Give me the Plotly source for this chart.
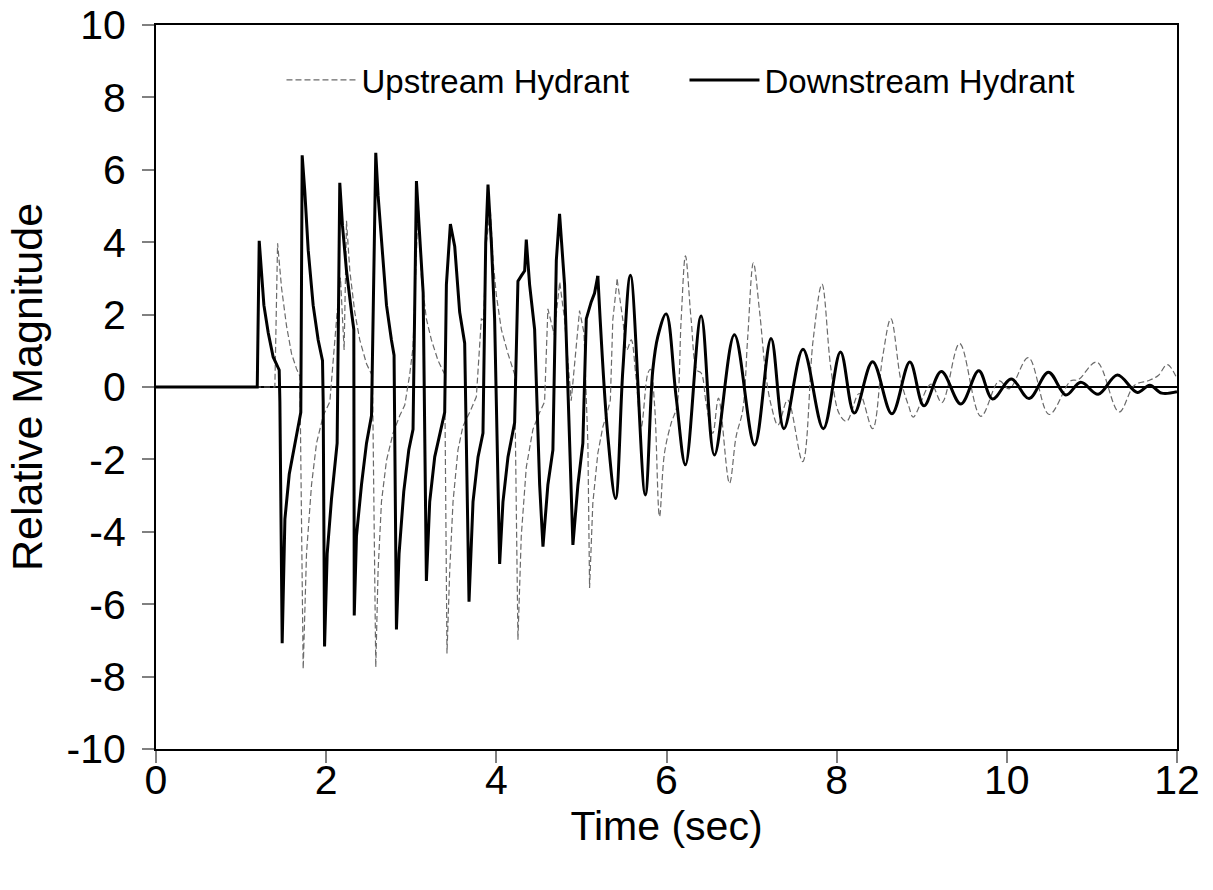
import plotly.graph_objects as go

# ---------------- data ----------------
# Downstream hydrant: sharp pulse section (linear segments)
down_t_a = [0.0, 1.19, 1.213, 1.241, 1.268, 1.319, 1.377, 1.448, 1.456, 1.483, 1.515, 1.566, 1.620,
            1.691, 1.702, 1.718, 1.749, 1.789, 1.847, 1.906, 1.957, 1.965, 1.981, 2.012, 2.063, 2.129,
            2.160, 2.192, 2.239, 2.298, 2.325, 2.330, 2.356, 2.415, 2.474, 2.533, 2.583, 2.610, 2.650,
            2.709, 2.767, 2.798, 2.826, 2.857, 2.912, 2.971, 3.021, 3.061, 3.092, 3.140, 3.178, 3.217,
            3.276, 3.334, 3.393, 3.413, 3.460, 3.511, 3.569, 3.628, 3.679, 3.726, 3.785, 3.843, 3.875,
            3.902, 3.942, 3.980, 4.039, 4.078, 4.137, 4.215, 4.254, 4.293, 4.333, 4.352, 4.391, 4.450,
            4.509, 4.548, 4.606, 4.665, 4.705, 4.743, 4.802, 4.900, 4.959, 5.017, 5.057, 5.115, 5.154,
            5.193]
down_v_a = [0.0, 0.0, 4.04, 3.11, 2.26, 1.50, 0.83, 0.47, -0.41, -7.08, -3.65, -2.41, -1.74,
            -0.93, -0.70, 6.40, 5.40, 3.78, 2.26, 1.30, 0.73, -0.41, -7.17, -4.60, -3.08, -1.55,
            5.64, 4.45, 3.21, 2.07, 1.59, -6.31, -4.12, -2.70, -1.55, -0.79, 6.47, 5.30, 3.97,
            2.26, 1.30, 0.88, -6.70, -4.60, -2.89, -1.74, -1.17, 5.69, 4.45, 2.60, -5.36, -3.17,
            -1.93, -1.36, -0.70, 2.83, 4.50, 3.88, 2.07, 1.21, -5.93, -3.17, -1.93, -1.27, 3.97,
            5.59, 3.97, 1.88, -4.89, -3.17, -1.93, -0.98, 2.92, 3.07, 3.21, 4.07, 2.83, 1.59,
            -2.70, -4.41, -2.70, -1.74, 3.50, 4.78, 2.83, -4.36, -2.70, -1.55, 1.88, 2.35, 2.59,
            3.07]
# Downstream hydrant: ringing section (smooth)
down_t_b = [5.193, 5.311, 5.401, 5.487, 5.577, 5.750, 5.839, 5.898, 5.996, 6.113, 6.223, 6.407,
            6.563, 6.798, 7.035, 7.229, 7.380, 7.604, 7.843, 8.045, 8.207, 8.422, 8.649, 8.860,
            9.025, 9.230, 9.460, 9.670, 9.832, 10.053, 10.262, 10.489, 10.693, 10.869, 11.074,
            11.299, 11.534, 11.680, 11.820, 12.0]
down_v_b = [3.07, -1.37, -3.08, 0.47, 3.09, -2.98, 0.47, 1.39, 2.02, -0.27, -2.15, 1.96,
            -1.88, 1.44, -1.60, 1.34, -1.15, 1.04, -1.15, 0.97, -0.72, 0.70, -0.74, 0.69,
            -0.52, 0.43, -0.47, 0.45, -0.33, 0.22, -0.32, 0.41, -0.22, 0.13, -0.20,
            0.33, -0.15, 0.05, -0.17, -0.13]

# Upstream hydrant: sharp pulse section
up_t_a = [0.0, 1.397, 1.429, 1.476, 1.534, 1.593, 1.652, 1.691, 1.730, 1.769, 1.828, 1.887, 1.965,
          2.043, 2.129, 2.168, 2.211, 2.239, 2.278, 2.336, 2.395, 2.474, 2.544, 2.583, 2.610, 2.650,
          2.709, 2.787, 2.865, 2.924, 2.982, 3.021, 3.082, 3.120, 3.178, 3.237, 3.315, 3.393, 3.420,
          3.452, 3.491, 3.549, 3.608, 3.687, 3.765, 3.804, 3.824, 3.850, 3.882, 3.929, 3.961, 4.000,
          4.059, 4.137, 4.215, 4.254, 4.293, 4.352, 4.430, 4.509, 4.567, 4.606, 4.680, 4.745, 4.800,
          4.880, 4.978, 5.030, 5.076, 5.096, 5.134, 5.193, 5.252, 5.311, 5.340, 5.369, 5.420]
up_v_a = [0.0, 0.0, 3.97, 2.73, 1.69, 0.92, 0.50, 0.30, -7.79, -4.60, -2.70, -1.55, -0.79,
          -0.41, 2.07, 3.02, 1.02, 4.59, 3.21, 2.07, 1.30, 0.64, 0.30, -7.74, -5.08, -3.17,
          -2.03, -1.27, -0.79, -0.50, 0.35, 1.11, 5.10, 3.02, 1.88, 1.30, 0.73, 0.35, -7.36,
          -5.08, -3.17, -1.74, -1.08, -0.70, -0.27, 1.11, 1.88, 1.85, 3.97, 4.92, 3.50, 2.54,
          1.59, 0.92, 0.35, -6.98, -4.12, -2.22, -1.17, -0.70, -0.41, 2.16, 1.45, 2.90, 1.90,
          -0.38, 2.11, 1.50, -1.55, -5.55, -3.21, -1.83, -1.10, -0.64, -0.36, 1.85, 2.97]
# Upstream hydrant: ringing section
up_t_b = [5.420, 5.487, 5.534, 5.585, 5.640, 5.703, 5.781, 5.812, 5.860, 5.918, 5.976, 6.055, 6.121,
          6.172, 6.223, 6.290, 6.357, 6.409, 6.466, 6.544, 6.611, 6.740, 6.818, 6.896, 6.955, 7.021,
          7.092, 7.170, 7.230, 7.310, 7.424, 7.600, 7.723, 7.827, 7.930, 8.030, 8.117, 8.266, 8.422,
          8.540, 8.637, 8.755, 8.850, 8.900, 9.108, 9.236, 9.445, 9.694, 9.910, 10.027, 10.253,
          10.497, 10.751, 10.840, 11.056, 11.319, 11.500, 11.671, 11.780, 11.886, 12.0]
up_v_b = [2.97, 1.85, 1.02, 1.30, 0.30, -1.10, 0.38, 0.49, -0.50, -3.58, -1.83, -1.00, -0.54,
          1.85, 3.62, 1.85, 0.47, 0.38, -0.45, -1.28, -0.31, -2.66, -1.37, -0.64, 1.39, 3.43,
          2.13, 0.29, -0.50, -1.05, -0.36, -2.06, 1.29, 2.84, 0.55, -0.74, -0.95, -0.18, -1.15,
          0.83, 1.89, 0.18, -0.55, -0.83, 0.08, -0.43, 1.20, -0.81, 0.17, -0.05, 0.81,
          -0.76, 0.17, 0.20, 0.69, -0.69, 0.05, 0.18, 0.32, 0.62, 0.23]

x_ticks = [0, 2, 4, 6, 8, 10, 12]
x_tick_labels = ["0", "2", "4", "6", "8", "10", "12"]
y_ticks = [-10, -8, -6, -4, -2, 0, 2, 4, 6, 8, 10]
y_tick_labels = ["-10", "-8", "-6", "-4", "-2", "0", "2", "4", "6", "8", "10"]

series_names = ["Upstream Hydrant", "Downstream Hydrant"]

# ---------------- figure ----------------
FONT = "Liberation Sans, Arial, sans-serif"
up_line = dict(color="#6a6a6a", width=1.2, dash="6px,3px")
down_line = dict(color="#000000", width=3)

fig = go.Figure()
fig.add_trace(go.Scatter(x=up_t_a, y=up_v_a, mode="lines", name=series_names[0],
                         legendgroup="up", line=dict(**up_line, shape="linear")))
fig.add_trace(go.Scatter(x=up_t_b, y=up_v_b, mode="lines", name=series_names[0],
                         legendgroup="up", showlegend=False,
                         line=dict(**up_line, shape="spline", smoothing=1.0)))
fig.add_trace(go.Scatter(x=down_t_a, y=down_v_a, mode="lines", name=series_names[1],
                         legendgroup="down", line=dict(**down_line, shape="linear")))
fig.add_trace(go.Scatter(x=down_t_b, y=down_v_b, mode="lines", name=series_names[1],
                         legendgroup="down", showlegend=False,
                         line=dict(**down_line, shape="spline", smoothing=1.0)))

axis_common = dict(
    showline=True, linecolor="#000000", linewidth=2, mirror=True,
    ticks="outside", ticklen=12, tickwidth=2, tickcolor="#808080",
    showgrid=False, tickfont=dict(family=FONT, size=41, color="#000000"),
)
fig.update_xaxes(range=[0, 12], tickvals=x_ticks, ticktext=x_tick_labels, zeroline=False,
                 ticklabelstandoff=-18,
                 title=dict(text="Time (sec)", font=dict(family=FONT, size=41, color="#000000"),
                            standoff=4),
                 **axis_common)
fig.update_yaxes(range=[-10, 10], tickvals=y_ticks, ticktext=y_tick_labels,
                 zeroline=True, zerolinecolor="#000000", zerolinewidth=2,
                 ticklabelstandoff=8,
                 title=dict(text="Relative Magnitude", font=dict(family=FONT, size=43, color="#000000"),
                            standoff=10),
                 **axis_common)

fig.update_layout(
    width=1213, height=890,
    margin=dict(l=156, r=36, t=25, b=141, autoexpand=False),
    paper_bgcolor="#ffffff", plot_bgcolor="#ffffff",
    font=dict(family=FONT, color="#000000"),
    showlegend=True,
    legend=dict(orientation="h", x=0.1229, y=0.924, xanchor="left", yanchor="middle",
                bgcolor="rgba(0,0,0,0)", borderwidth=0,
                font=dict(family=FONT, size=33, color="#000000"),
                itemwidth=70, entrywidth=318, entrywidthmode="pixels",
                traceorder="normal"),
)

fig.write_html("out.html")
